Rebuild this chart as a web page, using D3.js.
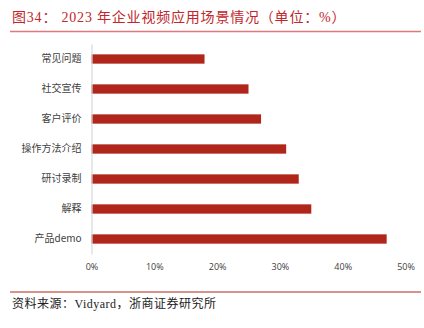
<!DOCTYPE html>
<html>
<head>
<meta charset="utf-8">
<script src="https://cdn.jsdelivr.net/npm/d3@7"></script>
<style>
  html, body { margin: 0; padding: 0; background: #fff; }
  svg { display: block; }
</style>
</head>
<body>
<svg id="chart" width="424" height="328"></svg>
<script>
// Usage scenarios of enterprise video in 2023 (percent)
const categories = ["常见问题", "社交宣传", "客户评价", "操作方法介绍", "研讨录制", "解释", "产品demo"];
const values = [18, 25, 27, 31, 33, 35, 47];
const tickValues = [0, 10, 20, 30, 40, 50];

const titleText = "图34：  2023 年企业视频应用场景情况（单位：%）";
const sourceText = "资料来源：Vidyard，浙商证券研究所";

const svg = d3.select("#chart");

// Header
svg.append("text")
  .attr("x", 12).attr("y", 22)
  .attr("fill", "#c0262c")
  .attr("font-family", "'Liberation Serif', 'Noto Sans CJK SC', serif")
  .attr("font-size", 14)
  .attr("letter-spacing", 0.8)
  .text(titleText);
svg.append("line")
  .attr("x1", 10).attr("x2", 421).attr("y1", 31.5).attr("y2", 31.5)
  .attr("stroke", "#e07a7a").attr("stroke-width", 1.5);

// Scales
const x = d3.scaleLinear().domain([0, 50]).range([91.5, 405.5]);
const y = d3.scaleBand().domain(categories).range([44, 254]).paddingInner(0.69).paddingOuter(0.345);

// Bars
svg.append("g").selectAll("rect")
  .data(categories)
  .join("rect")
  .attr("x", x(0))
  .attr("y", d => y(d))
  .attr("width", (d, i) => x(values[i]) - x(0))
  .attr("height", y.bandwidth())
  .attr("fill", "#b0261b");

// Category axis
const yAxis = svg.append("g")
  .attr("transform", `translate(${x(0)},0)`)
  .call(d3.axisLeft(y).tickSize(0).tickPadding(10));
yAxis.select(".domain").attr("stroke", "#d9d9d9").attr("stroke-width", 1.2);
yAxis.selectAll("text")
  .attr("fill", "#404040")
  .attr("font-family", "'Noto Sans CJK SC', sans-serif")
  .attr("font-size", 10);

// Value axis (labels only)
const xAxis = svg.append("g")
  .attr("transform", "translate(0,261)")
  .call(d3.axisBottom(x).tickValues(tickValues).tickSize(0).tickFormat(d => d + "%"));
xAxis.select(".domain").remove();
xAxis.selectAll("text")
  .attr("fill", "#404040")
  .attr("font-family", "'Open Sans', 'Noto Sans', sans-serif")
  .attr("font-size", 9);

// Footer
svg.append("line")
  .attr("x1", 10).attr("x2", 421).attr("y1", 292).attr("y2", 292)
  .attr("stroke", "#b0261b").attr("stroke-width", 1);
svg.append("text")
  .attr("x", 12).attr("y", 308)
  .attr("fill", "#222")
  .attr("font-family", "'Liberation Serif', 'Noto Sans CJK SC', serif")
  .attr("font-size", 12)
  .attr("letter-spacing", 0.5)
  .text(sourceText);
</script>
</body>
</html>
